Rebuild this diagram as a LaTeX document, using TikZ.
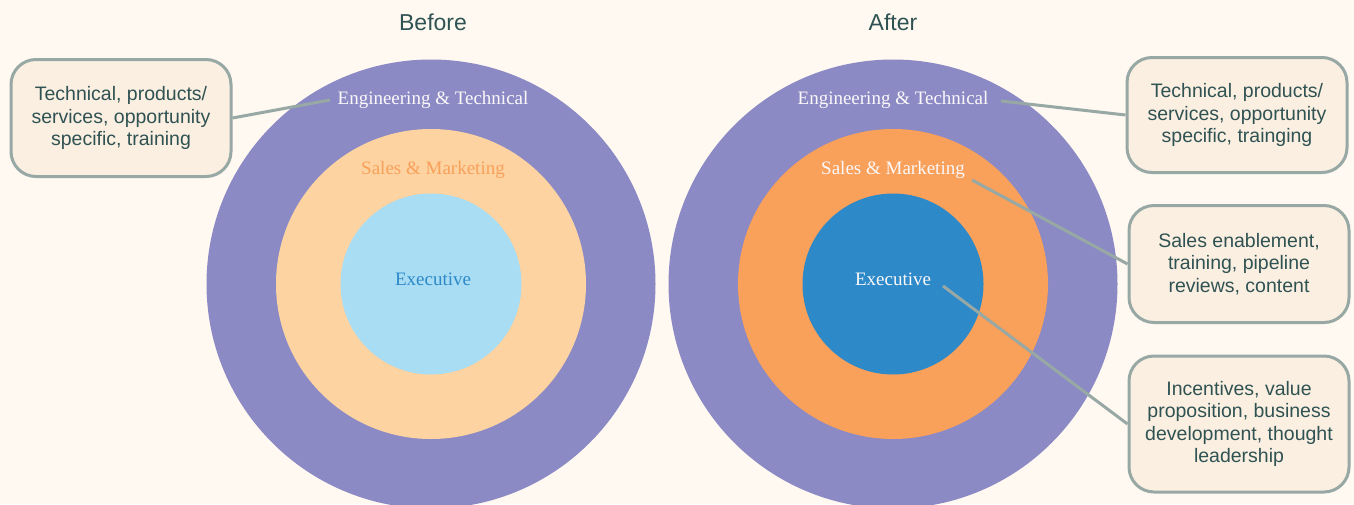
\documentclass[tikz,border=0pt]{standalone}
\usepackage{fontspec}
\setmainfont{Liberation Sans}
\newfontfamily\ringfont{Liberation Serif}
\usetikzlibrary{positioning}
\definecolor{bgcream}{HTML}{FFF9F1}
\definecolor{ringpurple}{HTML}{8C8AC4}
\definecolor{peachlight}{HTML}{FDD3A1}
\definecolor{bluelight}{HTML}{A8DDF3}
\definecolor{orangemid}{HTML}{F9A05A}
\definecolor{bluedeep}{HTML}{2D89C8}
\definecolor{notefill}{HTML}{FBEFE2}
\definecolor{noteline}{HTML}{97A8A5}
\definecolor{inkdark}{HTML}{2F5252}
\definecolor{softwhite}{HTML}{FBF8FA}

\begin{document}
\begin{tikzpicture}[x=1pt, y=-1pt,
    ring/.style={circle, fill=#1, inner sep=0pt},
    ringlabel/.style={font=\ringfont\fontsize{19}{20}\selectfont, text=#1, inner sep=0pt},
    title/.style={font=\fontsize{23}{25}\selectfont, text=inkdark},
    note/.style={rectangle, rounded corners=25pt, draw=noteline, line width=3pt, fill=notefill,
        text=inkdark, font=\fontsize{19.5}{22.6}\selectfont, align=center,
        minimum width=220pt, minimum height=#1},
    link/.style={draw=noteline, line width=3pt}
]
% Canvas
\useasboundingbox (0,0) rectangle (1354,504);
\fill[bgcream] (0,0) rectangle (1354,504);
\clip (0,0) rectangle (1354,504);

% Titles
\node[title] (before) at (433,22) {Before};
\node[title] (after) at (893,22) {After};

% Before rings
\node[ring=ringpurple, minimum size=449pt] (engB) at (431,284) {};
\node[ring=peachlight, minimum size=310pt] (salesB) at (431,284) {};
\node[ring=bluelight, minimum size=181pt] (execB) at (431,284) {};
\node[ringlabel=softwhite] (engLblB) at (433,100) {Engineering \& Technical};
\node[ringlabel=orangemid] (salesLblB) at (433,170) {Sales \& Marketing};
\node[ringlabel=bluedeep] (execLblB) at (433,279) {Executive};

% After rings
\node[ring=ringpurple, minimum size=449pt] (engA) at (893,284) {};
\node[ring=orangemid, minimum size=310pt] (salesA) at (893,284) {};
\node[ring=bluedeep, minimum size=181pt] (execA) at (893,284) {};
\node[ringlabel=softwhite] (engLblA) at (893,100) {Engineering \& Technical};
\node[ringlabel=softwhite] (salesLblA) at (893,170) {Sales \& Marketing};
\node[ringlabel=softwhite] (execLblA) at (893,279) {Executive};

% Callouts
\node[note=117pt] (noteTechB) at (121,118) {Technical, products/\\services, opportunity\\specific, training};
\node[note=115pt] (noteTechA) at (1237,115) {Technical, products/\\services, opportunity\\specific, trainging};
\node[note=117pt] (noteSales) at (1239,264) {Sales enablement,\\training, pipeline\\reviews, content};
\node[note=136pt] (noteExec) at (1239,424) {Incentives, value\\proposition, business\\development, thought\\leadership};

% Connector ends
\coordinate (tipTechB) at (330,100);
\coordinate (tipTechA) at (1001,101);
\coordinate (tipSales) at (972,180);
\coordinate (tipExec) at (943,286);

\draw[link] (noteTechB.east) -- (tipTechB);
\draw[link] (tipTechA) -- (noteTechA.west);
\draw[link] (tipSales) -- (noteSales.west);
\draw[link] (tipExec) -- (noteExec.west);

\end{tikzpicture}
\end{document}
